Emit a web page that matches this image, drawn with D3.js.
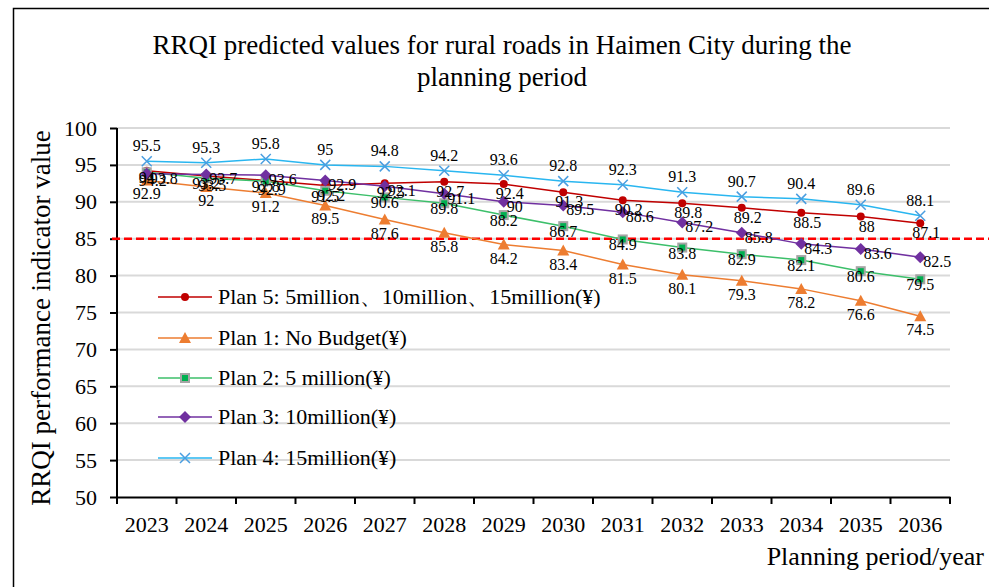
<!DOCTYPE html>
<html>
<head>
<meta charset="utf-8">
<script src="https://cdn.jsdelivr.net/npm/d3@7"></script>
<style>
  body { margin: 0; background: #fff; }
  text { font-family: "Liberation Serif", "Times New Roman", serif; fill: #000; }
</style>
</head>
<body>
<div id="chart-area"></div>
<script>
const years = ["2023", "2024", "2025", "2026", "2027", "2028", "2029", "2030", "2031", "2032", "2033", "2034", "2035", "2036"];
const plan5 = [94.2, 93.5, 92.9, 92.2, 92.5, 92.7, 92.4, 91.3, 90.2, 89.8, 89.2, 88.5, 88, 87.1];
const plan1 = [92.9, 92, 91.2, 89.5, 87.6, 85.8, 84.2, 83.4, 81.5, 80.1, 79.3, 78.2, 76.6, 74.5];
const plan2 = [94, 93.2, 92.8, 91.5, 90.6, 89.8, 88.2, 86.7, 84.9, 83.8, 82.9, 82.1, 80.6, 79.5];
const plan3 = [93.8, 93.7, 93.6, 92.9, 92.1, 91.1, 90, 89.5, 88.6, 87.2, 85.8, 84.3, 83.6, 82.5];
const plan4 = [95.5, 95.3, 95.8, 95, 94.8, 94.2, 93.6, 92.8, 92.3, 91.3, 90.7, 90.4, 89.6, 88.1];
const yTicks = [50, 55, 60, 65, 70, 75, 80, 85, 90, 95, 100];
const threshold = 85;

const seriesNames = [
    "Plan 5: 5million\u300110million\u300115million(¥)",
    "Plan 1: No Budget(¥)",
    "Plan 2: 5 million(¥)",
    "Plan 3: 10million(¥)",
    "Plan 4: 15million(¥)"
];

const series = [
    { name: seriesNames[0], values: plan5, color: "#c00000", marker: "circle", lab: { dx: 6, dy: 15, anchor: "middle" } },
    { name: seriesNames[1], values: plan1, color: "#ed7d31", marker: "triangle", lab: { dx: 0, dy: 19, anchor: "middle" } },
    { name: seriesNames[2], values: plan2, color: "#3cbf6a", marker: "square", lab: { dx: 0, dy: 11, anchor: "middle" } },
    { name: seriesNames[3], values: plan3, color: "#7030a0", marker: "diamond", lab: { dx: 3, dy: 10, anchor: "start" } },
    { name: seriesNames[4], values: plan4, color: "#29b6f0", marker: "cross", lab: { dx: 0, dy: -10, anchor: "middle" } }
];

const W = 989, H = 587;
const plot = { left: 117, right: 950, top: 128, bottom: 497 };

const svg = d3.select("#chart-area")
    .append("svg")
    .attr("width", W)
    .attr("height", H)
    .style("display", "block");

// outer frame
svg.append("rect")
    .attr("x", 13.5)
    .attr("y", 8.5)
    .attr("width", W)
    .attr("height", H)
    .attr("fill", "none")
    .attr("stroke", "#000")
    .attr("stroke-width", 1.5);

const x = d3.scaleBand().domain(years).range([plot.left, plot.right]).padding(0);
const y = d3.scaleLinear().domain([50, 100]).range([plot.bottom, plot.top]);
const cx = d => x(d) + x.bandwidth() / 2;

// gridlines
svg.append("g")
    .selectAll("line")
    .data(yTicks.slice(1))
    .enter().append("line")
    .attr("x1", plot.left)
    .attr("x2", plot.right)
    .attr("y1", d => y(d))
    .attr("y2", d => y(d))
    .attr("stroke", "#d9d9d9")
    .attr("stroke-width", 2);

// axes
const xAxis = svg.append("g")
    .attr("transform", `translate(0,${plot.bottom})`)
    .call(d3.axisBottom(x).tickSize(0).tickFormat(""));
xAxis.select(".domain").attr("stroke", "#000").attr("stroke-width", 2);
xAxis.selectAll(".tick").remove();
xAxis.selectAll(".bt")
    .data(d3.range(years.length + 1))
    .enter().append("line")
    .attr("x1", i => plot.left + i * x.bandwidth())
    .attr("x2", i => plot.left + i * x.bandwidth())
    .attr("y1", 0)
    .attr("y2", 7)
    .attr("stroke", "#000")
    .attr("stroke-width", 2);
xAxis.selectAll(".yl")
    .data(years)
    .enter().append("text")
    .attr("x", d => cx(d))
    .attr("y", 35)
    .attr("text-anchor", "middle")
    .attr("font-size", "22px")
    .text(d => d);

const yAxis = svg.append("g")
    .attr("transform", `translate(${plot.left},0)`)
    .call(d3.axisLeft(y).tickValues(yTicks).tickSize(7).tickPadding(13).tickSizeOuter(0));
yAxis.select(".domain").attr("stroke", "#000").attr("stroke-width", 2)
    .attr("d", `M0,${plot.top}V${plot.bottom + 7}`);
yAxis.selectAll(".tick line").attr("stroke", "#000").attr("stroke-width", 2);
yAxis.selectAll(".tick text")
    .attr("font-size", "22px")
    .attr("font-family", "Liberation Serif, serif")
    .attr("fill", "#000");

// threshold line
svg.append("line")
    .attr("x1", plot.left - 5)
    .attr("x2", W)
    .attr("y1", y(threshold))
    .attr("y2", y(threshold))
    .attr("stroke", "#ff0000")
    .attr("stroke-width", 2.5)
    .attr("stroke-dasharray", "8,4");

function drawMarker(g, type, color) {
    if (type === "circle") {
        g.append("circle").attr("r", 4).attr("fill", color);
    } else if (type === "triangle") {
        g.append("path").attr("d", "M0,-6L6,5L-6,5Z").attr("fill", color);
    } else if (type === "square") {
        g.append("rect").attr("x", -4).attr("y", -4).attr("width", 8).attr("height", 8)
            .attr("fill", "#00b050").attr("stroke", "#a5a5a5").attr("stroke-width", 2);
    } else if (type === "diamond") {
        g.append("path").attr("d", "M0,-6L6,0L0,6L-6,0Z").attr("fill", color);
    } else {
        g.append("path").attr("d", "M-5,-5L5,5M-5,5L5,-5").attr("stroke", "#4a9ee0").attr("stroke-width", 1.5);
    }
}

const line = d3.line().x(d => cx(d.year)).y(d => y(d.value));

series.forEach(s => {
    const pts = years.map((yr, i) => ({ year: yr, value: s.values[i] }));
    const g = svg.append("g");
    g.append("path")
        .datum(pts)
        .attr("fill", "none")
        .attr("stroke", s.color)
        .attr("stroke-width", 1.5)
        .attr("d", line);
    g.selectAll(".m")
        .data(pts)
        .enter().append("g")
        .attr("transform", d => `translate(${cx(d.year)},${y(d.value)})`)
        .each(function () { drawMarker(d3.select(this), s.marker, s.color); });
});

// data labels drawn on top
series.forEach(s => {
    svg.append("g")
        .selectAll("text")
        .data(years.map((yr, i) => ({ year: yr, value: s.values[i] })))
        .enter().append("text")
        .attr("x", d => cx(d.year) + s.lab.dx)
        .attr("y", d => y(d.value) + s.lab.dy)
        .attr("text-anchor", s.lab.anchor)
        .attr("font-size", "16px")
        .text(d => d.value);
});

// legend
const legend = svg.append("g").attr("transform", "translate(158,297)");
const rows = legend.selectAll(".row")
    .data(series)
    .enter().append("g")
    .attr("transform", (d, i) => `translate(0,${[0, 41, 81, 120, 161][i]})`);
rows.append("line")
    .attr("x1", 0).attr("x2", 54)
    .attr("stroke", d => d.color)
    .attr("stroke-width", 1.5);
rows.append("g")
    .attr("transform", "translate(27,0)")
    .each(function (d) { drawMarker(d3.select(this), d.marker, d.color); });
rows.append("text")
    .attr("x", 60)
    .attr("y", 7)
    .attr("font-size", "22px")
    .text(d => d.name);

// titles
const title = svg.append("text")
    .attr("text-anchor", "middle")
    .attr("font-size", "27px");
title.append("tspan").attr("x", 502).attr("y", 54)
    .text("RRQI predicted values for rural roads in Haimen City during the");
title.append("tspan").attr("x", 502).attr("y", 86)
    .text("planning period");

svg.append("text")
    .attr("transform", "rotate(-90)")
    .attr("x", -318)
    .attr("y", 50)
    .attr("text-anchor", "middle")
    .attr("font-size", "27px")
    .text("RRQI performance indicator value");

svg.append("text")
    .attr("x", 984)
    .attr("y", 565)
    .attr("text-anchor", "end")
    .attr("font-size", "26px")
    .text("Planning period/year");
</script>
</body>
</html>
